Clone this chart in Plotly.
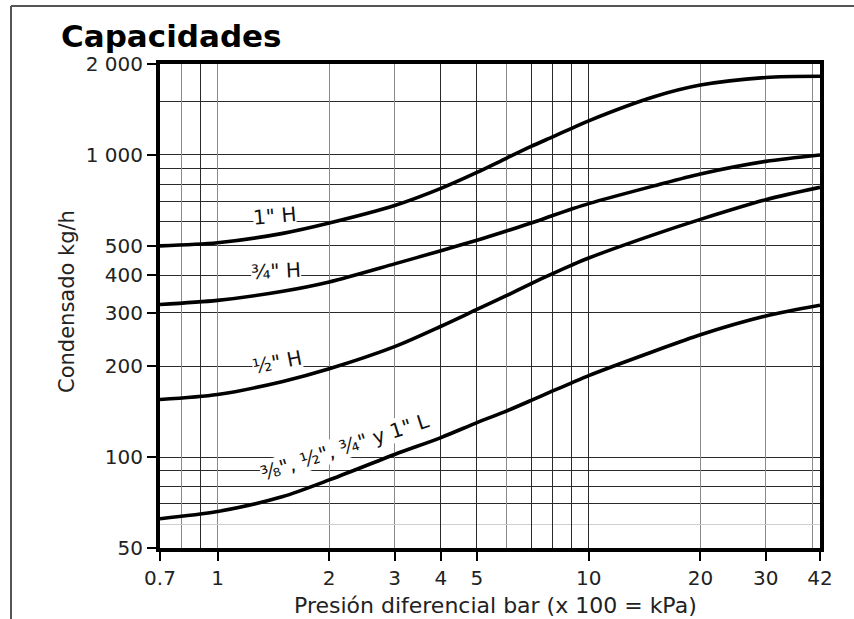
import numpy as np
import plotly.graph_objects as go

# ---------------- data ----------------
pressure = [0.7, 1, 1.5, 2, 3, 4, 5, 6, 7, 8, 9, 10, 15, 20, 30, 42]
cap_1in_H = [500, 512, 550, 595, 680, 775, 875, 975, 1067, 1148, 1225, 1297, 1558, 1703, 1805, 1821]
cap_34in_H = [320, 330, 354, 380, 436, 482, 522, 560, 595, 630, 662, 690, 790, 865, 952, 1000]
cap_12in_H = [155, 161, 178, 196, 232, 271, 308, 342, 375, 405, 432, 456, 545, 612, 711, 781]
cap_L = [62.5, 66, 74, 84, 102, 116, 130, 142, 154, 165.5, 176, 186, 224, 254, 293, 318]

x_tickvals = [0.7, 1, 2, 3, 4, 5, 10, 20, 30, 42]
x_ticktext = ["0.7", "1", "2", "3", "4", "5", "10", "20", "30", "42"]
y_tickvals = [50, 100, 200, 300, 400, 500, 1000, 2000]
y_ticktext = ["50", "100", "200", "300", "400", "500", "1 000", "2 000"]

x_grid_dark = [0.9, 4, 5, 7, 8, 9, 10]
x_grid_gray = [0.8, 1, 2, 3, 6, 20, 30, 40]
y_grid_minor = [70, 80, 90, 600, 700, 800, 900, 1500]
y_grid_light = [60]

labels = ['1" H', '¾" H', '½" H', '⅜", ½", ¾" y 1" L']
label_x = [1.42, 1.44, 1.45, 2.2]
label_y = [630, 412, 207, 108]
label_angle = [-5, -3, -11, -18]

x_title = "Presión diferencial bar (x 100 = kPa)"
y_title = "Condensado kg/h"
chart_title = "Capacidades"

FONT = "DejaVu Sans"
xr = [np.log10(0.7), np.log10(42)]
yr = [np.log10(50), np.log10(2000)]

L, R, T, B = 160, 34, 64, 71
W, H = 854, 619
PW, PH = W - L - R, H - T - B


def px_to_paper(px, py):
    return (px - L) / PW, (H - B - py) / PH


fig = go.Figure()

# empty helper traces for overlay grid axes
fig.add_trace(go.Scatter(x=[], y=[], xaxis="x2", yaxis="y2", showlegend=False, hoverinfo="skip"))
fig.add_trace(go.Scatter(x=[], y=[], xaxis="x3", yaxis="y", showlegend=False, hoverinfo="skip"))

for series in [cap_1in_H, cap_34in_H, cap_12in_H, cap_L]:
    fig.add_trace(go.Scatter(
        x=pressure, y=series, mode="lines",
        line=dict(color="black", width=3.6, shape="spline", smoothing=0.8),
        showlegend=False, hoverinfo="skip"))

tickfont = dict(family=FONT, size=20, color="#222")

fig.update_layout(
    width=W, height=H,
    margin=dict(l=L, r=R, t=T, b=B),
    paper_bgcolor="white", plot_bgcolor="white",
    title=dict(text="<b>" + chart_title + "</b>", font=dict(family=FONT, size=31, color="black"),
               x=61 / W, xanchor="left", xref="container",
               y=1 - 36 / H, yanchor="middle", yref="container"),
    xaxis=dict(type="log", range=xr, tickmode="array", tickvals=x_tickvals, ticktext=x_ticktext,
               ticks="outside", ticklen=9, tickwidth=1.5, tickcolor="black",
               showline=True, linewidth=4, linecolor="black", mirror=True,
               showgrid=False, zeroline=False, tickfont=tickfont),
    yaxis=dict(type="log", range=yr, tickmode="array", tickvals=y_tickvals, ticktext=y_ticktext,
               ticks="outside", ticklen=9, tickwidth=1.5, tickcolor="black",
               showline=True, linewidth=4, linecolor="black", mirror=True,
               showgrid=True, gridcolor="#2a2a2a", gridwidth=1.2, zeroline=False, tickfont=tickfont,
               minor=dict(tickmode="array", tickvals=y_grid_minor, showgrid=True,
                          gridcolor="#2a2a2a", gridwidth=1.2, ticks="")),
    xaxis2=dict(type="log", range=xr, overlaying="x", anchor="y", tickmode="array",
                tickvals=x_grid_gray, showticklabels=False, ticks="", showline=False,
                showgrid=True, gridcolor="#8a8a8a", gridwidth=1.3, zeroline=False),
    xaxis3=dict(type="log", range=xr, overlaying="x", anchor="y", tickmode="array",
                tickvals=x_grid_dark, showticklabels=False, ticks="", showline=False,
                showgrid=True, gridcolor="#2a2a2a", gridwidth=1.2, zeroline=False),
    yaxis2=dict(type="log", range=yr, overlaying="y", anchor="x2", tickmode="array",
                tickvals=y_grid_light, showticklabels=False, ticks="", showline=False,
                showgrid=True, gridcolor="#cfcfcf", gridwidth=1.2, zeroline=False),
)

# curve labels
for txt, lx, ly, ang in zip(labels, label_x, label_y, label_angle):
    fig.add_annotation(x=np.log10(lx), y=np.log10(ly), xref="x", yref="y", text=txt,
                       showarrow=False, textangle=ang, bgcolor="white", borderpad=0,
                       borderwidth=0, font=dict(family=FONT, size=20, color="#111"))

# axis titles
ax_, ay_ = px_to_paper(495, 605)
fig.add_annotation(x=ax_, y=ay_, xref="paper", yref="paper", text=x_title, showarrow=False,
                   xanchor="center", yanchor="middle",
                   font=dict(family=FONT, size=22, color="#222"))
bx_, by_ = px_to_paper(67, 302)
fig.add_annotation(x=bx_, y=by_, xref="paper", yref="paper", text=y_title, showarrow=False,
                   xanchor="center", yanchor="middle", textangle=-90,
                   font=dict(family=FONT, size=21, color="#222"))

# outer frame of the figure
fx0, fy0 = px_to_paper(11, 625)
fx1, fy1 = px_to_paper(860, 6)
fig.add_shape(type="line", xref="paper", yref="paper", x0=fx0, x1=fx0, y0=fy0, y1=fy1,
              line=dict(color="#555", width=2))
fig.add_shape(type="line", xref="paper", yref="paper", x0=fx0, x1=fx1, y0=fy1, y1=fy1,
              line=dict(color="#555", width=2))

fig.write_html("out.html")
